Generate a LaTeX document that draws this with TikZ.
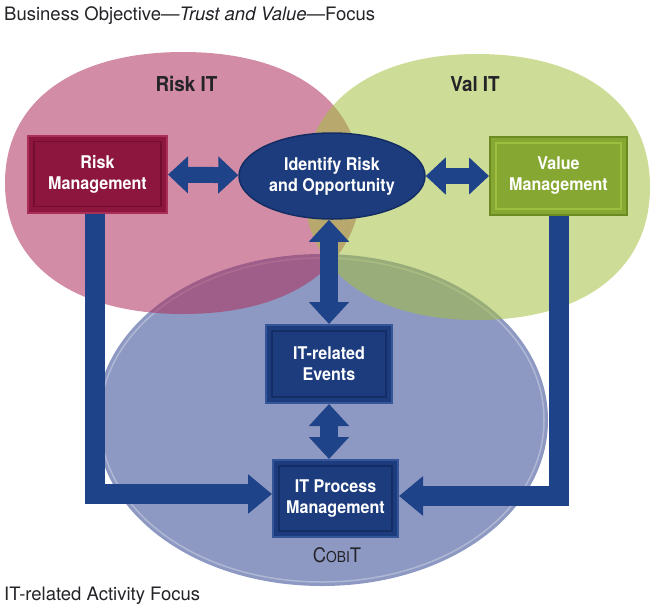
\documentclass[tikz,border=0pt]{standalone}
\usepackage{fontspec}
\setmainfont{TeX Gyre Heros}
\newfontfamily\cond[FakeStretch=0.92]{TeX Gyre Heros}
\usetikzlibrary{arrows.meta,shapes.geometric,calc}
\definecolor{pinkc}{RGB}{173,46,91}
\definecolor{greenc}{RGB}{164,191,64}
\definecolor{bluebg}{RGB}{141,153,194}
\definecolor{arrowc}{RGB}{31,67,136}
\definecolor{navy}{RGB}{29,60,125}
\definecolor{navylt}{RGB}{52,86,152}
\definecolor{navydk}{RGB}{20,45,100}
\definecolor{crim}{RGB}{140,22,62}
\definecolor{crimlt}{RGB}{168,48,88}
\definecolor{crimdk}{RGB}{115,14,48}
\definecolor{lime}{RGB}{134,168,50}
\definecolor{limelt}{RGB}{158,190,66}
\definecolor{limedk}{RGB}{108,138,34}
\definecolor{txtdark}{RGB}{35,35,40}
\newcommand\bxfont{\cond\bfseries\fontsize{17.5}{21}\selectfont}
\newcommand\softoval[5]{%
  ({#1+#3},{#2}) .. controls ({#1+#3},{#2-#5*#4}) and ({#1+#5*#3},{#2-#4}) .. ({#1},{#2-#4})
  .. controls ({#1-#5*#3},{#2-#4}) and ({#1-#3},{#2-#5*#4}) .. ({#1-#3},{#2})
  .. controls ({#1-#3},{#2+#5*#4}) and ({#1-#5*#3},{#2+#4}) .. ({#1},{#2+#4})
  .. controls ({#1+#5*#3},{#2+#4}) and ({#1+#3},{#2+#5*#4}) .. ({#1+#3},{#2}) -- cycle}
\begin{document}
\begin{tikzpicture}[x=1pt,y=-1pt,
  box/.style n args={3}{fill=#1, draw=#2, line width=2pt, text=white, font=\bxfont,
    align=center, inner sep=0pt,
    path picture={\draw[#3, line width=1.2pt]
      ([shift={(6pt,-6pt)}]path picture bounding box.north west) rectangle
      ([shift={(-6pt,6pt)}]path picture bounding box.south east);}},
  dbl/.style={draw=arrowc, line width=16pt, line cap=butt,
    {Triangle[width=36pt,length=20pt]}-{Triangle[width=36pt,length=20pt]}},
  dblv/.style={draw=arrowc, line width=18pt, line cap=butt,
    {Triangle[width=39pt,length=22pt]}-{Triangle[width=39pt,length=22pt]}},
  lshaft/.style={draw=arrowc, line width=20pt, line cap=butt, line join=miter,
    -{Triangle[width=38pt,length=24pt]}},
  circlab/.style={font=\cond\bfseries\fontsize{20.5}{24}\selectfont, text=txtdark, inner sep=0pt, anchor=base},
  plain/.style={font=\fontsize{18.5}{22}\selectfont, text=txtdark, inner sep=0pt, anchor=base west}
]
\useasboundingbox (0,0) rectangle (652,606);

% background ovals
\fill[bluebg] \softoval{322}{420}{226}{166}{0.56};
\draw[white, opacity=0.3, line width=1.5pt] \softoval{322}{420}{222}{162}{0.56};
\fill[pinkc, fill opacity=0.55] \softoval{183}{183}{178}{131}{0.62};
\fill[greenc, fill opacity=0.55] \softoval{477}{187}{173}{133}{0.62};

% captions
\node[plain] (top) at (4,20.5) {Business Objective—\textit{Trust and Value}—Focus};
\node[plain] (bot) at (4,600) {IT-related Activity Focus};
\node[circlab] (riskit) at (186.5,91) {Risk IT};
\node[circlab] (valit) at (475,91) {Val IT};
\node[font=\cond\fontsize{20}{24}\selectfont, text=txtdark, inner sep=0pt, anchor=base]
  (cobit) at (337,562.5) {C{\fontsize{15}{18}\selectfont OBI}T};

% nodes
\node[box={crim}{crimlt}{crimdk}, minimum width=139pt, minimum height=77pt] (rm) at (97.5,174) {Risk\\Management};
\node[box={lime}{limedk}{limelt}, minimum width=137pt, minimum height=78pt] (vm) at (558.5,176) {Value\\Management};
\node[ellipse, fill=navy, draw=navydk, line width=1.5pt, minimum width=186pt, minimum height=86pt,
  inner sep=0pt, text=white, font=\bxfont, align=center] (iro) at (332,176) {Identify Risk\\and Opportunity};
\node[box={navy}{navylt}{navydk}, minimum width=126pt, minimum height=78pt] (ev) at (329,364) {IT-related\\Events};
\node[box={navy}{navylt}{navydk}, minimum width=125pt, minimum height=77pt] (itpm) at (335.5,498.5) {IT Process\\Management};

% connectors
\draw[dbl] (rm) -- (iro);
\draw[dbl] (iro) -- (vm);
\draw[dblv] (ev.north |- iro.south) -- (ev.north);
\draw[dblv] (ev.south) -- (ev.south |- itpm.north);
\draw[lshaft] ([xshift=-2.5pt]rm.south) |- ([yshift=4.5pt]itpm.west);
\draw[lshaft] (vm.south) |- ([yshift=2.5pt]itpm.east);
\end{tikzpicture}
\end{document}
